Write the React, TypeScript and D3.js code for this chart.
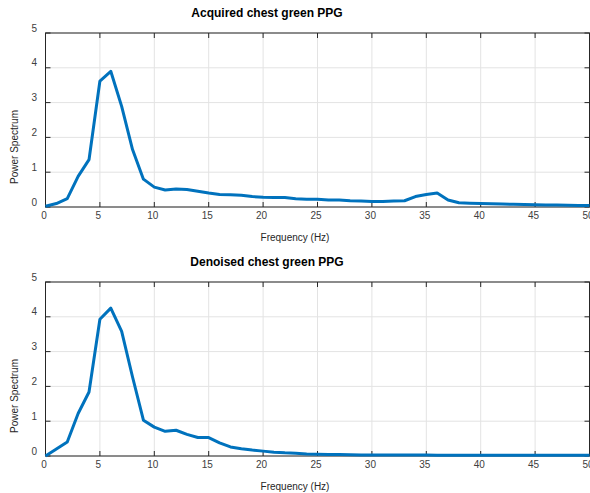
import * as d3 from 'd3';

const freqs = [
  0, 1, 2, 3, 4, 5, 6, 7, 8, 9, 10, 11, 12, 13, 14, 15, 16, 17, 18, 19, 20, 21, 22, 23, 24, 25,
  26, 27, 28, 29, 30, 31, 32, 33, 34, 35, 36, 37, 38, 39, 40, 41, 42, 43, 44, 45, 46, 47, 48, 49, 50,
];

const acquired = [
  0.02, 0.1, 0.24, 0.88, 1.36, 3.62, 3.9, 2.89, 1.65, 0.8, 0.57, 0.49, 0.52, 0.5, 0.45, 0.4, 0.36,
  0.35, 0.34, 0.3, 0.28, 0.27, 0.27, 0.24, 0.22, 0.22, 0.2, 0.2, 0.18, 0.17, 0.16, 0.16, 0.17, 0.18,
  0.3, 0.36, 0.4, 0.2, 0.12, 0.11, 0.1, 0.09, 0.085, 0.08, 0.07, 0.065, 0.06, 0.055, 0.05, 0.045, 0.04,
];

const denoised = [
  0.0, 0.2, 0.4, 1.22, 1.84, 3.93, 4.25, 3.58, 2.27, 1.03, 0.83, 0.71, 0.74, 0.62, 0.53, 0.53, 0.38,
  0.26, 0.21, 0.17, 0.14, 0.11, 0.09, 0.08, 0.06, 0.05, 0.045, 0.04, 0.035, 0.032, 0.03, 0.03, 0.029,
  0.028, 0.027, 0.026, 0.025, 0.025, 0.024, 0.024, 0.023, 0.023, 0.022, 0.022, 0.021, 0.021, 0.02,
  0.02, 0.02, 0.02, 0.02,
];

const xTicks = [0, 5, 10, 15, 20, 25, 30, 35, 40, 45, 50];
const yTicks = [0, 1, 2, 3, 4, 5];

const panels = [
  { title: 'Acquired chest green PPG', values: acquired, top: 33, bottom: 207 },
  { title: 'Denoised chest green PPG', values: denoised, top: 282, bottom: 456 },
];

const LEFT = 45.5;
const RIGHT = 589.5;
const FONT = "'Liberation Sans', Arial, Helvetica, sans-serif";
const AXIS = '#262626';
const GRID = '#e3e3e3';
const LINE = '#0072BD';

function Panel({ title, values, top, bottom }: { title: string; values: number[]; top: number; bottom: number }) {
  const x = d3.scaleLinear().domain([0, 50]).range([LEFT, RIGHT]);
  const y = d3.scaleLinear().domain([0, 5]).range([bottom, top]);
  const line = d3
    .line<number>()
    .x((_, i) => x(freqs[i]))
    .y((d) => y(d));
  const tickLen = 5;

  return (
    <g fontFamily={FONT}>
      {/* grid */}
      {xTicks.map((t) => (
        <line key={'gx' + t} x1={x(t)} x2={x(t)} y1={top} y2={bottom} stroke={GRID} strokeWidth={1} />
      ))}
      {yTicks.map((t) => (
        <line key={'gy' + t} x1={LEFT} x2={RIGHT} y1={y(t)} y2={y(t)} stroke={GRID} strokeWidth={1} />
      ))}

      {/* box */}
      <rect x={LEFT} y={top} width={RIGHT - LEFT} height={bottom - top} fill="none" stroke={AXIS} strokeWidth={1} />

      {/* inward ticks on all sides */}
      {xTicks.map((t) => (
        <g key={'tx' + t}>
          <line x1={x(t)} x2={x(t)} y1={bottom} y2={bottom - tickLen} stroke={AXIS} />
          <line x1={x(t)} x2={x(t)} y1={top} y2={top + tickLen} stroke={AXIS} />
        </g>
      ))}
      {yTicks.map((t) => (
        <g key={'ty' + t}>
          <line x1={LEFT} x2={LEFT + tickLen} y1={y(t)} y2={y(t)} stroke={AXIS} />
          <line x1={RIGHT} x2={RIGHT - tickLen} y1={y(t)} y2={y(t)} stroke={AXIS} />
        </g>
      ))}

      {/* series */}
      <path d={line(values) ?? ''} fill="none" stroke={LINE} strokeWidth={3} strokeLinejoin="round" />

      {/* tick labels */}
      {xTicks.map((t) => (
        <text key={'lx' + t} x={x(t) - 1.5} y={bottom + 12} textAnchor="middle" fontSize={10} fill="#404040">
          {t}
        </text>
      ))}
      {yTicks.map((t) => (
        <text key={'ly' + t} x={37} y={y(t) - 1.5} textAnchor="end" fontSize={10} fill="#404040">
          {t}
        </text>
      ))}

      {/* title and labels */}
      <text x={267} y={top - 16} textAnchor="middle" fontSize={12} fontWeight="bold" fill="#000">
        {title}
      </text>
      <text x={295} y={bottom + 34} textAnchor="middle" fontSize={10} fill="#262626">
        Frequency (Hz)
      </text>
      <text
        transform={`translate(18,${top + 114}) rotate(-90)`}
        textAnchor="middle"
        fontSize={10}
        fill="#262626"
      >
        Power Spectrum
      </text>
    </g>
  );
}

export default function App() {
  return (
    <svg
      width={590}
      height={493}
      style={{ position: 'absolute', left: 0, top: 0, background: '#fff' }}
    >
      <rect width={590} height={493} fill="#fff" />
      {panels.map((p) => (
        <Panel key={p.title} {...p} />
      ))}
    </svg>
  );
}
